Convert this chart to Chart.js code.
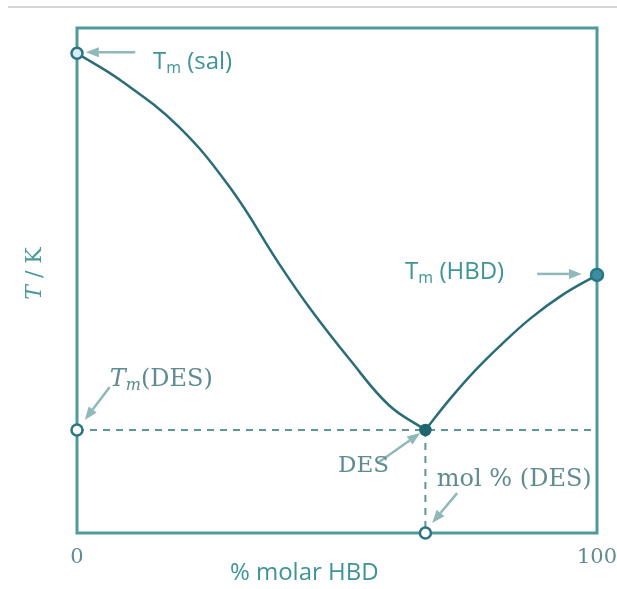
<!DOCTYPE html>
<html>
<head>
<meta charset="utf-8">
<script src="https://cdn.jsdelivr.net/npm/chart.js@4.4.1/dist/chart.umd.min.js"></script>
<style>
  html, body { margin: 0; background: #fff; }
  #wrap { position: relative; width: 617px; height: 589px; }
  .rule { position: absolute; left: 8px; top: 6px; width: 609px; height: 2px; background: #d4d4d4; }
</style>
</head>
<body>
<div id="wrap">
  <div class="rule"></div>
  <canvas id="phase" width="617" height="589"></canvas>
</div>
<script>
// liquidus, salt-rich side (x = % molar HBD, y = relative T)
const saltSideX = [0, 8.3, 19.5, 29.5, 39, 45, 52.5, 60, 67]
const saltSideT = [95, 89.7, 80.5, 68.3, 53.1, 44.2, 34.3, 25.3, 20.4]
// liquidus, HBD-rich side
const hbdSideX = [67, 71.7, 76.5, 81.3, 87.1, 93.3, 100]
const hbdSideT = [20.4, 26.5, 32.1, 37.0, 42.4, 47.1, 51.1]

const tmSalt = 95
const tmHbd = 51.1
const tmDes = 20.4
const molDes = 67
const xTicks = [0, 100]

const TEAL_LINE = "#2b6d77"
const FRAME = "#4f9a9c"
const ARROW = "#8fb8b8"
const SANS_TXT = "#3f9496"
const SERIF_TXT = "#5e8c90"

const zip = (xs, ys) => xs.map((x, i) => ({ x, y: ys[i] }))

// labels: each is a list of [text, font, baseline shift]
const sans = "24px 'Open Sans'"
const sansSub = "16px 'Open Sans'"
const serif = "24px 'DejaVu Serif'"
const serifIt = "italic 24px 'DejaVu Serif'"
const serifSubIt = "italic 16px 'DejaVu Serif'"
const serifDes = "23px 'DejaVu Serif'"
const axisSerif = "22px 'DejaVu Serif'"
const axisSerifIt = "italic 22px 'DejaVu Serif'"

const labels = [
  { x: 14.6, y: 93.3, color: SANS_TXT, parts: [["T", sans, 0], ["m", sansSub, 7], [" (sal)", sans, 0]] },
  { x: 63.1, y: 51.7, color: SANS_TXT, parts: [["T", sans, 0], ["m", sansSub, 7], [" (HBD)", sans, 0]] },
  { x: 6.3, y: 30.3, color: SERIF_TXT, parts: [["T", serifIt, 0], ["m", serifSubIt, 6], ["(DES)", serif, 0]] },
  { x: 50.2, y: 13.3, color: SERIF_TXT, parts: [["DES", serifDes, 0]] },
  { x: 69.2, y: 10.5, color: SERIF_TXT, parts: [["mol % (DES)", serif, 0]] }
]

const arrows = [
  [11.2, 95.2, 1.7, 95.2],
  [88.5, 51.3, 97.1, 51.3],
  [6.3, 28.9, 1.5, 22.4],
  [57.9, 13.9, 66, 19.8],
  [73.1, 7.9, 68.3, 2]
]

function drawParts(ctx, parts, x, y, color) {
  ctx.fillStyle = color
  ctx.textBaseline = "middle"
  ctx.textAlign = "left"
  parts.forEach(([t, font, dy]) => {
    ctx.font = font
    ctx.fillText(t, x, y + dy)
    x += ctx.measureText(t).width
  })
}

function drawArrow(ctx, x1, y1, x2, y2) {
  const a = Math.atan2(y2 - y1, x2 - x1)
  const head = 13, half = 5
  const bx = x2 - head * Math.cos(a), by = y2 - head * Math.sin(a)
  ctx.strokeStyle = ARROW
  ctx.fillStyle = ARROW
  ctx.lineWidth = 2.5
  ctx.beginPath()
  ctx.moveTo(x1, y1)
  ctx.lineTo(bx, by)
  ctx.stroke()
  ctx.beginPath()
  ctx.moveTo(x2, y2)
  ctx.lineTo(bx + half * Math.sin(a), by - half * Math.cos(a))
  ctx.lineTo(bx - half * Math.sin(a), by + half * Math.cos(a))
  ctx.closePath()
  ctx.fill()
}

const phaseNotes = {
  id: "phaseNotes",
  beforeDatasetsDraw(chart) {
    const { ctx, chartArea: a } = chart
    ctx.save()
    ctx.strokeStyle = FRAME
    ctx.lineWidth = 3
    ctx.strokeRect(a.left, a.top, a.right - a.left, a.bottom - a.top)
    ctx.restore()
  },
  afterDatasetsDraw(chart) {
    const { ctx, chartArea: a, scales: { x, y } } = chart
    ctx.save()
    arrows.forEach(([x1, y1, x2, y2]) =>
      drawArrow(ctx, x.getPixelForValue(x1), y.getPixelForValue(y1), x.getPixelForValue(x2), y.getPixelForValue(y2))
    )
    labels.forEach(l => drawParts(ctx, l.parts, x.getPixelForValue(l.x), y.getPixelForValue(l.y), l.color))

    // axis titles
    drawParts(ctx, [["% molar HBD", sans, 0]], x.getPixelForValue(29.4), a.bottom + 40, SANS_TXT)
    ctx.translate(35, (a.top + a.bottom) / 2 - 7)
    ctx.rotate(-Math.PI / 2)
    ctx.font = axisSerifIt
    const w = ctx.measureText("T").width
    ctx.font = axisSerif
    const w2 = ctx.measureText(" / K").width
    drawParts(ctx, [["T", axisSerifIt, 0], [" / K", axisSerif, 0]], -(w + w2) / 2, 0, "#4a9a9c")
    ctx.restore()
  }
}

new Chart(document.getElementById("phase"), {
  type: "scatter",
  data: {
    datasets: [
      {
        data: [
          { x: 0, y: tmSalt },
          { x: 0, y: tmDes },
          { x: molDes, y: 0 },
          { x: molDes, y: tmDes },
          { x: 100, y: tmHbd }
        ],
        showLine: false,
        clip: false,
        pointRadius: [5.5, 5.5, 5.5, 5, 6],
        pointBackgroundColor: ["#d9eef2", "#ffffff", "#ffffff", "#1e6670", "#3d8ea0"],
        pointBorderColor: ["#2a7684", "#2a7684", "#2a7684", "#1e6670", "#2a7684"],
        pointBorderWidth: 2.5
      },
      {
        data: zip(saltSideX, saltSideT),
        showLine: true,
        borderColor: TEAL_LINE,
        borderWidth: 2.5,
        pointRadius: 0,
        tension: 0.4
      },
      {
        data: zip(hbdSideX, hbdSideT),
        showLine: true,
        borderColor: TEAL_LINE,
        borderWidth: 2.5,
        pointRadius: 0,
        tension: 0.4
      },
      {
        data: [{ x: 0, y: tmDes }, { x: 100, y: tmDes }],
        showLine: true,
        borderColor: "#5f9597",
        borderWidth: 2,
        borderDash: [7, 6],
        pointRadius: 0
      },
      {
        data: [{ x: molDes, y: tmDes }, { x: molDes, y: 0 }],
        showLine: true,
        borderColor: "#5f9597",
        borderWidth: 2,
        borderDash: [7, 6],
        pointRadius: 0
      }
    ]
  },
  options: {
    responsive: false,
    animation: false,
    layout: { padding: { top: 28, right: 20 } },
    plugins: { legend: { display: false }, tooltip: { enabled: false } },
    scales: {
      x: {
        type: "linear",
        min: 0,
        max: 100,
        afterFit: s => { s.height = 56; s.paddingLeft = 0; s.paddingRight = 0 },
        afterBuildTicks: s => { s.ticks = xTicks.map(v => ({ value: v })) },
        grid: { display: false, drawTicks: false },
        border: { display: false },
        ticks: {
          padding: 12,
          color: SERIF_TXT,
          font: { family: "'DejaVu Serif'", size: 21 },
          maxRotation: 0
        }
      },
      y: {
        min: 0,
        max: 100,
        afterFit: s => { s.width = 77 },
        grid: { display: false, drawTicks: false },
        border: { display: false },
        ticks: { display: false }
      }
    }
  },
  plugins: [phaseNotes]
})
</script>
</body>
</html>
